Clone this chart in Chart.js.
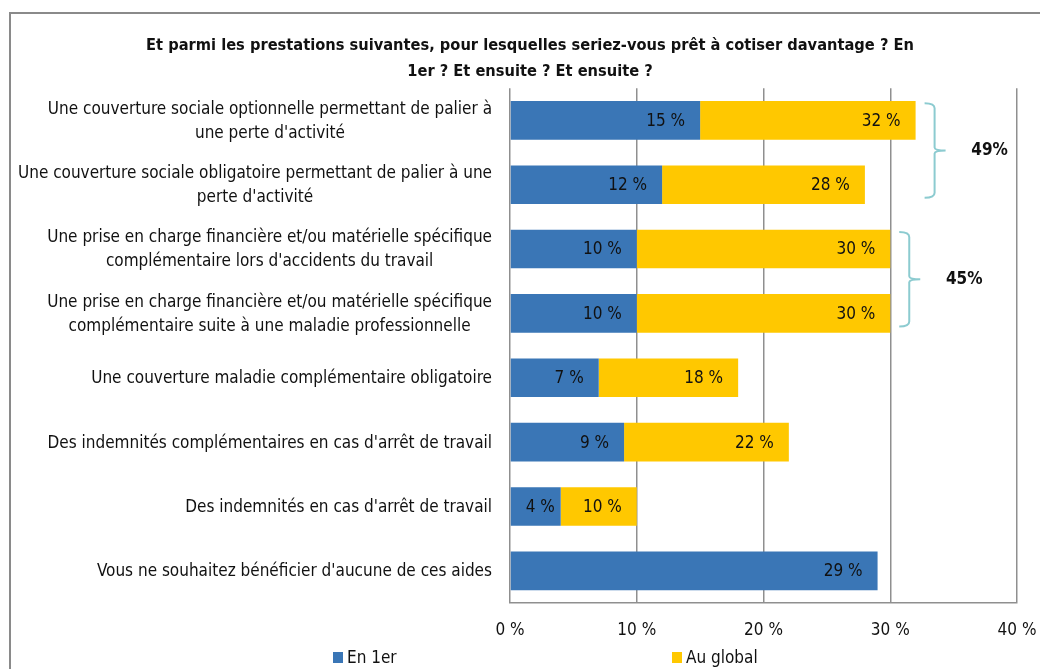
<!DOCTYPE html>
<html>
<head>
<meta charset="utf-8">
<script src="https://cdn.jsdelivr.net/npm/chart.js@4"></script>
<style>
  html, body { margin: 0; padding: 0; background: #fff; }
  #wrap { position: relative; width: 1040px; height: 669px; overflow: hidden; }
  #frame { position: absolute; left: 9px; top: 12px; width: 1100px; height: 700px; border: 2px solid #8a8a8a; box-sizing: border-box; }
  canvas { position: absolute; left: 0; top: 0; }
  .leg { position: absolute; top: 647px; font: 17px 'Liberation Sans Narrow', 'DejaVu Sans Condensed', sans-serif; color: #111; line-height: 20px; }
  .leg i { display: inline-block; width: 10px; height: 11px; margin-right: 4px; }
</style>
</head>
<body>
<div id="wrap">
  <div id="frame"></div>
  <canvas id="chart" width="1040" height="669"></canvas>
  <div class="leg" style="left:333px"><i style="background:#3A76B6"></i>En 1er</div>
  <div class="leg" style="left:672px"><i style="background:#FFC800"></i>Au global</div>
</div>
<script>
const categories = [
  ["Une couverture sociale optionnelle permettant de palier à", "une perte d'activité"],
  ["Une couverture sociale obligatoire permettant de palier à une", "perte d'activité"],
  ["Une prise en charge financière et/ou matérielle spécifique", "complémentaire lors d'accidents du travail"],
  ["Une prise en charge financière et/ou matérielle spécifique", "complémentaire suite à une maladie professionnelle"],
  "Une couverture maladie complémentaire obligatoire",
  "Des indemnités complémentaires en cas d'arrêt de travail",
  "Des indemnités en cas d'arrêt de travail",
  "Vous ne souhaitez bénéficier d'aucune de ces aides"
];
const enPremier = [15, 12, 10, 10, 7, 9, 4, 29];
const auGlobal = [32, 28, 30, 30, 18, 22, 10, null];
const xTicks = [0, 10, 20, 30, 40];
const bracketGroups = [[0, 1], [2, 3]];
const bracketLabels = ['49%', '45%'];

const FONT = "'Liberation Sans Narrow', 'DejaVu Sans Condensed', sans-serif";

// yellow segment floats from the "en 1er" value to the global value
const globalBars = auGlobal.map((g, i) => g == null ? null : [enPremier[i], g]);

// category labels: block right-aligned, lines centred inside the block
const catLabels = {
  id: 'catLabels',
  afterDraw(chart) {
    const ctx = chart.ctx, ys = chart.scales.y;
    const right = chart.chartArea.left - 18;
    ctx.save();
    ctx.font = '17px ' + FONT;
    ctx.fillStyle = '#111';
    ctx.textAlign = 'center';
    ctx.textBaseline = 'middle';
    categories.forEach((c, i) => {
      const lines = Array.isArray(c) ? c : [c];
      const w = Math.max(...lines.map(l => ctx.measureText(l).width));
      const cx = right - w / 2;
      const y0 = ys.getPixelForValue(i) + 1 - (lines.length - 1) * 12;
      lines.forEach((l, j) => ctx.fillText(l, cx, y0 + j * 24));
    });
    ctx.restore();
  }
};

const barLabels = {
  id: 'barLabels',
  afterDatasetsDraw(chart) {
    const ctx = chart.ctx;
    ctx.save();
    ctx.font = '17px ' + FONT;
    ctx.fillStyle = '#111';
    ctx.textAlign = 'right';
    ctx.textBaseline = 'middle';
    chart.data.datasets.forEach((ds, di) => {
      chart.getDatasetMeta(di).data.forEach((el, i) => {
        const v = di === 0 ? enPremier[i] : auGlobal[i];
        if (v == null) return;
        const txt = v + ' %';
        const w = ctx.measureText(txt).width;
        const x = Math.max(el.x - 15, el.base + w + 15);
        ctx.fillText(txt, x, el.y + 1);
      });
    });
    ctx.restore();
  }
};

const brackets = {
  id: 'brackets',
  afterDraw(chart) {
    const ctx = chart.ctx;
    const xs = chart.scales.x, ys = chart.scales.y;
    ctx.save();
    ctx.strokeStyle = '#8CCBD0';
    ctx.lineWidth = 2;
    bracketGroups.forEach((g, k) => {
      const maxV = Math.max(...g.map(i => auGlobal[i]));
      const x0 = xs.getPixelForValue(maxV) + 9;
      const x1 = x0 + 10, x2 = x0 + 21;
      const top = ys.getPixelForValue(g[0]) - 17;
      const bot = ys.getPixelForValue(g[g.length - 1]) + 13;
      const mid = (top + bot) / 2;
      ctx.beginPath();
      ctx.moveTo(x0, top);
      ctx.quadraticCurveTo(x1, top, x1, top + 5);
      ctx.lineTo(x1, mid - 3);
      ctx.quadraticCurveTo(x1, mid, x2, mid);
      ctx.moveTo(x1, mid + 3);
      ctx.quadraticCurveTo(x1, mid, x2, mid);
      ctx.moveTo(x1, mid + 3);
      ctx.lineTo(x1, bot - 5);
      ctx.quadraticCurveTo(x1, bot, x0, bot);
      ctx.stroke();
      ctx.font = 'bold 17px ' + FONT;
      ctx.fillStyle = '#111';
      ctx.textAlign = 'center';
      ctx.textBaseline = 'middle';
      ctx.fillText(bracketLabels[k], x2 + 44, mid);
    });
    ctx.restore();
  }
};

new Chart(document.getElementById('chart').getContext('2d'), {
  type: 'bar',
  data: {
    labels: categories,
    datasets: [{
      label: 'En 1er',
      data: enPremier,
      backgroundColor: '#3A76B6',
      barPercentage: 0.6,
      categoryPercentage: 1,
      grouped: false
    }, {
      label: 'Au global',
      data: globalBars,
      backgroundColor: '#FFC800',
      barPercentage: 0.6,
      categoryPercentage: 1,
      grouped: false
    }]
  },
  options: {
    indexAxis: 'y',
    responsive: false,
    animation: false,
    layout: { padding: { left: 43, right: 23, top: 0, bottom: 0 } },
    plugins: {
      legend: { display: false },
      tooltip: { enabled: false },
      title: {
        display: true,
        text: ['Et parmi les prestations suivantes, pour lesquelles seriez-vous prêt à cotiser davantage ? En', '1er ? Et ensuite ? Et ensuite ?'],
        font: { family: FONT, size: 16.3, weight: 'bold', lineHeight: 1.6 },
        color: '#111',
        padding: { top: 33, bottom: 3 }
      }
    },
    scales: {
      x: {
        min: 0, max: 40,
        afterBuildTicks: s => { s.ticks = xTicks.map(v => ({ value: v })); },
        afterFit: s => { s.height = 66; s.paddingRight = 0; s.paddingLeft = 0; },
        ticks: { callback: v => v + ' %', font: { family: FONT, size: 17 }, color: '#111', padding: 17 },
        grid: { color: '#8f8f8f', lineWidth: 1.5, drawTicks: false },
        border: { color: '#8f8f8f', width: 1.5 }
      },
      y: {
        afterFit: s => { s.width = 467; },
        ticks: { display: false },
        grid: { display: false, drawTicks: false },
        border: { display: false }
      }
    }
  },
  plugins: [barLabels, brackets, catLabels]
});
</script>
</body>
</html>
